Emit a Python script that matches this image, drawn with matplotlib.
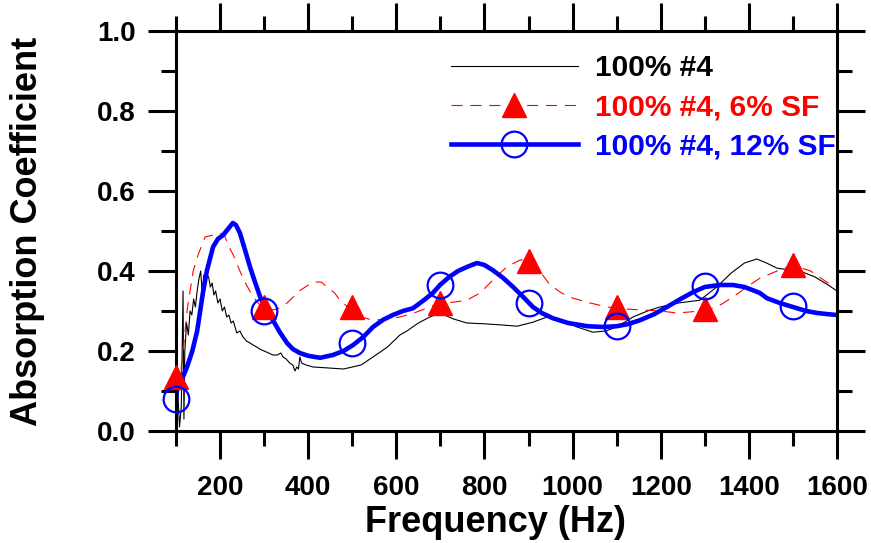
import matplotlib
matplotlib.use('Agg')
import matplotlib.pyplot as plt
from matplotlib.ticker import MultipleLocator

# data
black_f = [100, 104, 108, 112, 116, 118, 120, 124, 128, 132, 136, 140, 144, 148, 152, 156, 160, 163, 166, 170,
           174, 178, 182, 186, 190, 195, 200, 205, 210, 215, 220, 225, 230, 238, 245, 252, 260, 268, 275, 283,
           290, 300, 310, 320, 330, 338, 343, 350, 358, 365, 370, 374, 378, 381, 385, 395, 411, 440, 480, 520,
           547, 580, 608, 624, 650, 676, 699, 730, 760, 800, 840, 874, 910, 942, 980, 1010, 1046, 1075, 1100, 1137,
           1170, 1198, 1240, 1289, 1327, 1360, 1390, 1418, 1440, 1464, 1490, 1516, 1550, 1580, 1600]
black_a = [0.11, 0.10, 0.01, 0.06, 0.35, 0.03, 0.20, 0.27, 0.24, 0.30, 0.29, 0.33, 0.31, 0.35, 0.38, 0.40, 0.34, 0.39, 0.37, 0.39,
           0.385, 0.36, 0.37, 0.34, 0.35, 0.32, 0.33, 0.30, 0.31, 0.285, 0.29, 0.27, 0.275, 0.245, 0.25, 0.235, 0.225, 0.22, 0.215, 0.21,
           0.205, 0.20, 0.195, 0.19, 0.19, 0.195, 0.185, 0.18, 0.17, 0.165, 0.15, 0.16, 0.155, 0.185, 0.17, 0.165, 0.16, 0.158, 0.155, 0.165,
           0.185, 0.21, 0.24, 0.25, 0.27, 0.285, 0.295, 0.28, 0.27, 0.268, 0.265, 0.262, 0.272, 0.285, 0.275, 0.26, 0.247, 0.25, 0.26, 0.285,
           0.30, 0.31, 0.32, 0.327, 0.36, 0.395, 0.42, 0.43, 0.42, 0.407, 0.403, 0.40, 0.385, 0.365, 0.35]

red_f = [100, 108, 116, 125, 132, 139, 150, 166, 185, 200, 210, 218, 230, 245, 260, 275, 290, 306, 330, 352,
         380, 411, 430, 443, 460, 472, 500, 520, 547, 580, 608, 640, 676, 699, 730, 760, 790, 819, 850, 880,
         900, 925, 949, 975, 1001, 1040, 1078, 1120, 1169, 1200, 1237, 1270, 1305, 1335, 1364, 1395, 1425, 1464, 1500, 1540,
         1577, 1600]
red_a = [0.13, 0.12, 0.20, 0.30, 0.35, 0.40, 0.44, 0.485, 0.49, 0.495, 0.49, 0.465, 0.44, 0.40, 0.365, 0.335, 0.315, 0.30, 0.305, 0.32,
         0.35, 0.373, 0.372, 0.36, 0.345, 0.327, 0.30, 0.285, 0.277, 0.28, 0.285, 0.295, 0.31, 0.32, 0.322, 0.327, 0.345, 0.377, 0.41, 0.427,
         0.43, 0.40, 0.365, 0.345, 0.332, 0.32, 0.31, 0.305, 0.302, 0.30, 0.295, 0.298, 0.302, 0.315, 0.335, 0.36, 0.382, 0.40, 0.415, 0.40,
         0.372, 0.36]

blue_f = [100, 102, 110, 125, 137, 148, 161, 170, 177, 184, 195, 207, 218, 229, 236, 245, 256, 268, 280, 291,
          305, 320, 335, 352, 365, 381, 400, 427, 456, 480, 502, 525, 547, 570, 592, 615, 638, 660, 683, 699,
          720, 740, 760, 783, 800, 819, 842, 865, 888, 910, 930, 955, 990, 1033, 1070, 1100, 1125, 1153, 1185, 1214,
          1245, 1273, 1300, 1334, 1364, 1390, 1409, 1425, 1441, 1470, 1500, 1530, 1555, 1580, 1600]
blue_a = [0.08, 0.10, 0.12, 0.16, 0.20, 0.25, 0.345, 0.40, 0.43, 0.46, 0.48, 0.49, 0.505, 0.52, 0.515, 0.495, 0.455, 0.41, 0.37, 0.335,
          0.30, 0.277, 0.248, 0.22, 0.205, 0.195, 0.188, 0.183, 0.19, 0.20, 0.215, 0.235, 0.26, 0.278, 0.29, 0.30, 0.307, 0.325, 0.345, 0.365,
          0.385, 0.40, 0.41, 0.42, 0.415, 0.402, 0.383, 0.36, 0.335, 0.31, 0.295, 0.282, 0.27, 0.262, 0.26, 0.262, 0.267, 0.277, 0.292, 0.31,
          0.33, 0.347, 0.36, 0.365, 0.365, 0.36, 0.352, 0.345, 0.332, 0.32, 0.31, 0.30, 0.295, 0.292, 0.29]

mark_f = [100, 300, 500, 700, 900, 1100, 1300, 1500]
tri_a = [0.135, 0.31, 0.31, 0.32, 0.425, 0.31, 0.305, 0.415]
circ_a = [0.08, 0.30, 0.22, 0.365, 0.32, 0.262, 0.362, 0.312]

labels = ['100% #4', '100% #4, 6% SF', '100% #4, 12% SF']

plt.rcParams['font.family'] = ['Liberation Sans', 'DejaVu Sans']
plt.rcParams['font.weight'] = 'bold'

fig = plt.figure(figsize=(8.71, 5.43), dpi=100)
ax = fig.add_axes([176/871, 1-431/543, 661/871, 400/543])

l1, = ax.plot(black_f, black_a, color='black', lw=0.8)
l2, = ax.plot(red_f, red_a, color='red', lw=0.8, dashes=[10, 7])
m2, = ax.plot(mark_f, tri_a, ls='none', marker='^', ms=17, color='red', clip_on=False, zorder=4)
l3, = ax.plot(blue_f, blue_a, color='blue', lw=3.3)
m3, = ax.plot(mark_f, circ_a, ls='none', marker='o', ms=18.5, mfc='none', mec='blue', mew=1.6,
              clip_on=False, zorder=5)

ax.set_xlim(100, 1600)
ax.set_ylim(0, 1.0)
ax.xaxis.set_major_locator(MultipleLocator(200))
ax.xaxis.set_minor_locator(MultipleLocator(100))
ax.yaxis.set_minor_locator(MultipleLocator(0.1))
ax.set_yticks([0, 0.2, 0.4, 0.6, 0.8, 1.0])
ax.set_yticklabels(['0.0', '0.2', '0.4', '0.6', '0.8', '1.0'])

for s in ax.spines.values():
    s.set_linewidth(2.2)
ax.tick_params(which='both', direction='out', top=True, right=True, width=2.2, labelsize=20)
ax.tick_params(which='major', length=20, pad=9)
ax.tick_params(which='minor', length=10.5)
ax.tick_params(axis='x', which='major', pad=12)

ax.set_xlabel('Frequency (Hz)', fontsize=26, fontweight='bold', va='center')
ax.set_ylabel('Absorption Coefficient', fontsize=26, fontweight='bold', va='center')
ax.xaxis.set_label_coords(0.484, -0.2275)
ax.yaxis.set_label_coords(-0.224, 0.5)

leg = ax.legend([l1, (l2, m2), (l3, m3)], labels, loc='upper left', bbox_to_anchor=(0.416, 0.9425),
                frameon=False, fontsize=21.5, handlelength=4.25, handletextpad=0.57, labelspacing=0.37,
                borderpad=0, borderaxespad=0, numpoints=1)
for t, c in zip(leg.get_texts(), ['black', 'red', 'blue']):
    t.set_color(c)
    t.set_fontweight('bold')

fig.savefig('out.png', dpi=100)
